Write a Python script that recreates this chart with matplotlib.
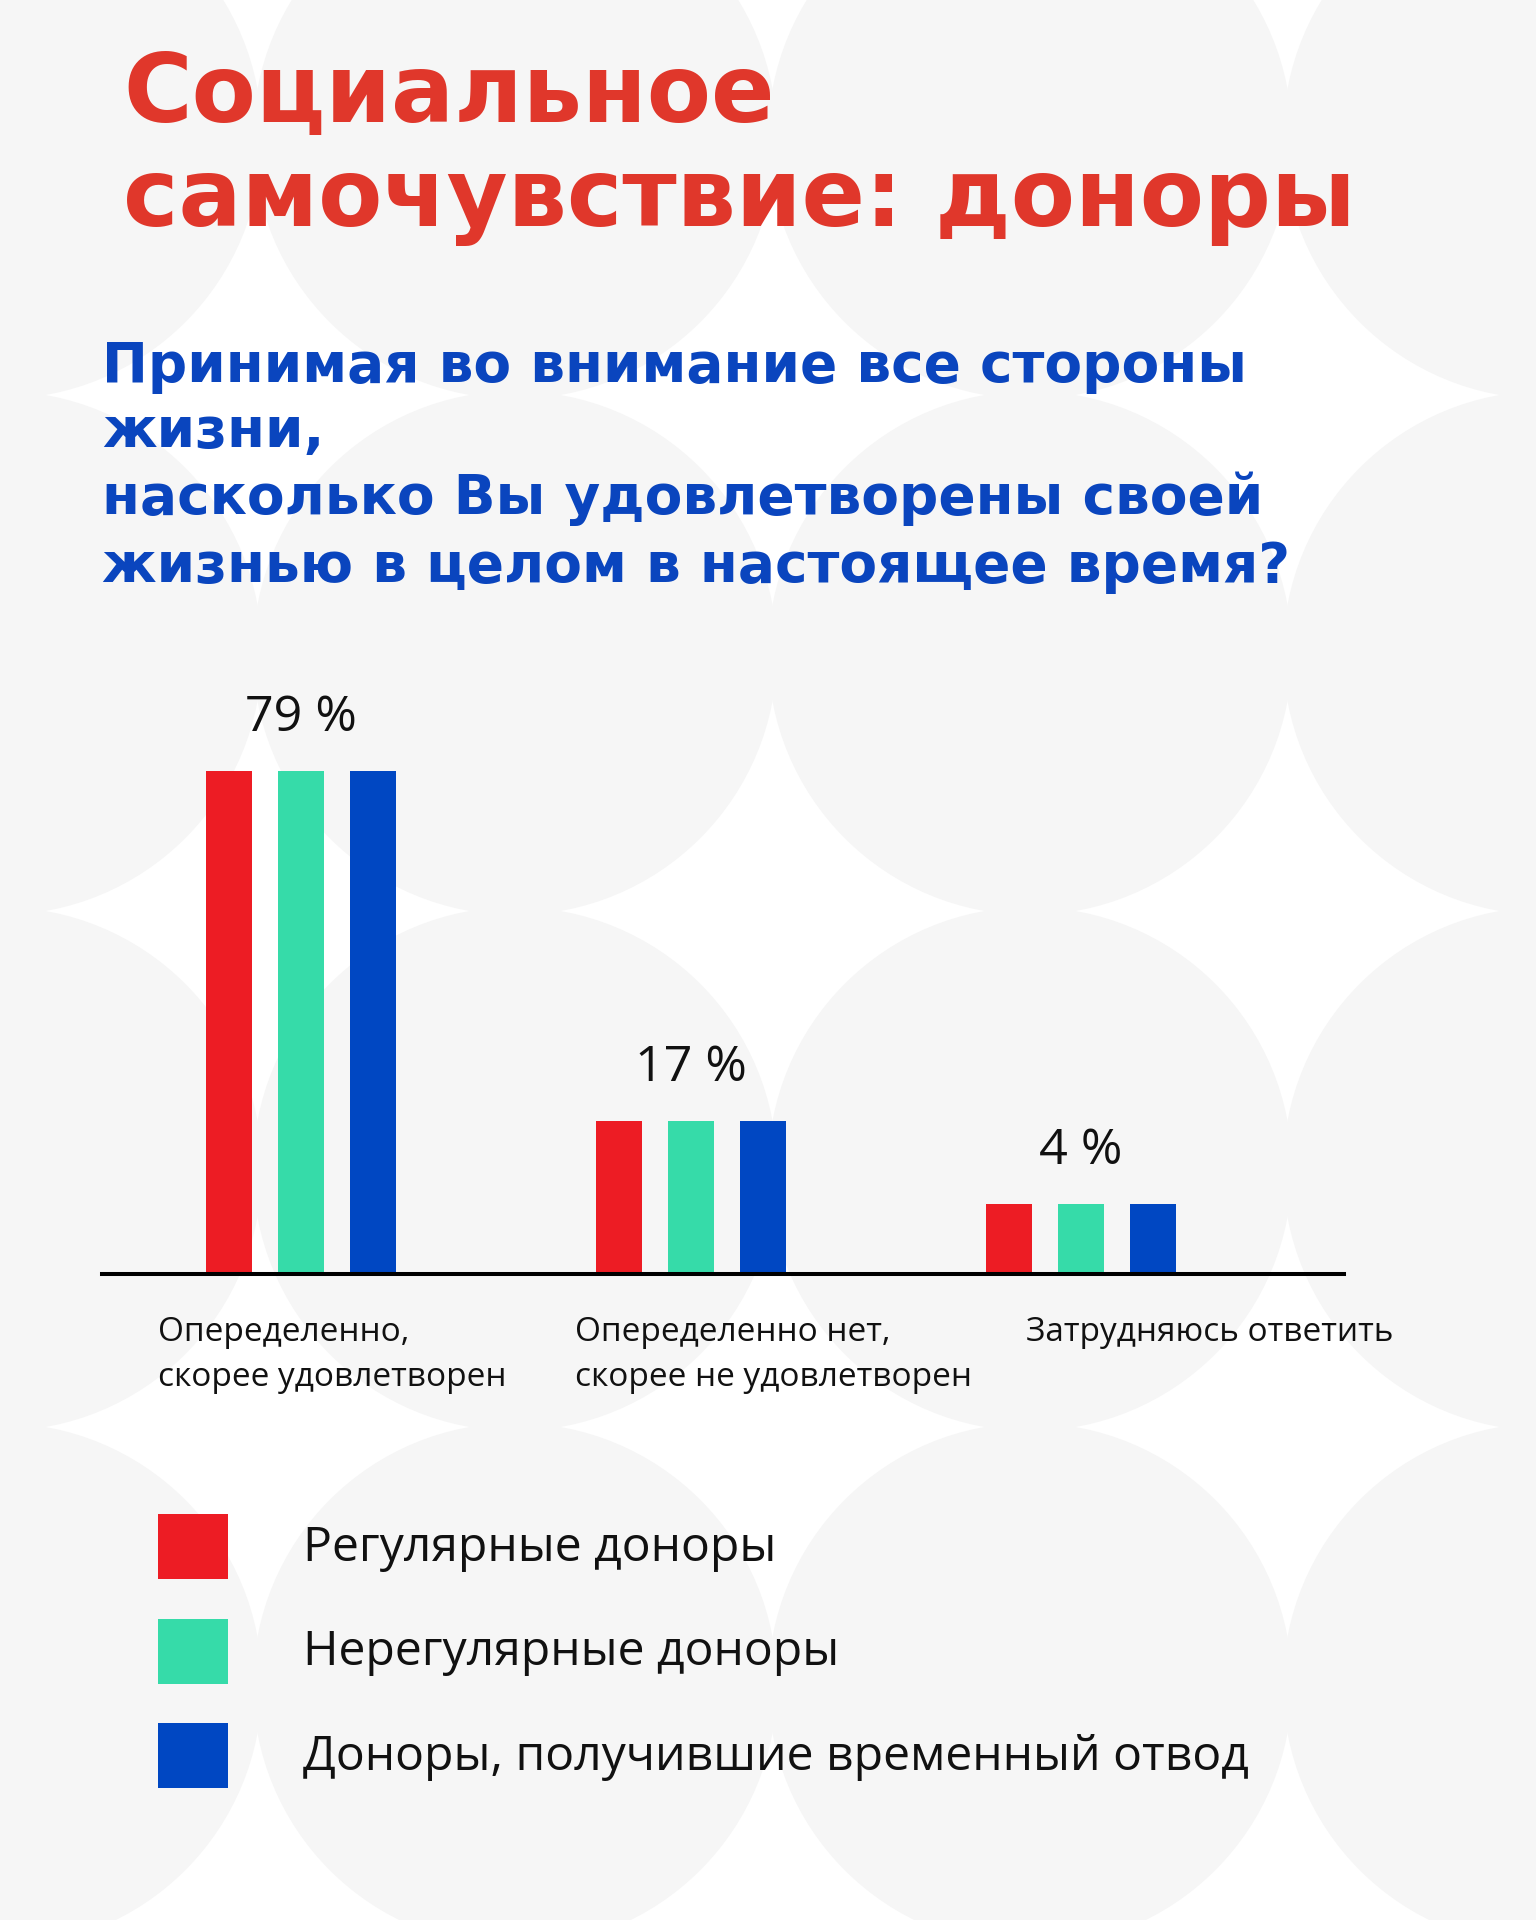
import numpy as np
import matplotlib.pyplot as plt
from matplotlib.patches import Circle, Rectangle

# --- chart data ---
title_lines = ['Социальное', 'самочувствие: доноры']
question_lines = ['Принимая во внимание все стороны',
                  'жизни,',
                  'насколько Вы удовлетворены своей',
                  'жизнью в целом в настоящее время?']
categories = ['Опеределенно,\nскорее удовлетворен',
              'Опеределенно нет,\nскорее не удовлетворен',
              'Затрудняюсь ответить']
shares = [79, 17, 4]          # printed values, %
bar_heights = [79, 24, 11]    # bar heights as drawn in the picture (not to scale)
series = ['Регулярные доноры',
          'Нерегулярные доноры',
          'Доноры, получившие временный отвод']
colors = ['#ED1C24', '#36DBA9', '#0047C2']

W, H = 1536, 1920
fig = plt.figure(figsize=(W / 100, H / 100), dpi=100)
fig.patch.set_facecolor('white')

# background layer in pixel coords
bg = fig.add_axes([0, 0, 1, 1], zorder=0)
bg.set_xlim(0, W)
bg.set_ylim(H, 0)
bg.axis('off')
step_x, step_y, r = 515, 516, 262
for cx in np.arange(-1, 5) * step_x:
    for cy in 137 + np.arange(-1, 4) * step_y:
        bg.add_patch(Circle((cx, cy), r, color='#F6F6F6', lw=0))


def fit_width(texts, target):
    # scale a group of texts so that the first one is target px wide
    fig.canvas.draw()
    w = texts[0].get_window_extent().width
    size = texts[0].get_fontsize() * target / w
    for t in texts:
        t.set_fontsize(size)


# title
t_title = [bg.text(123, y, s, fontsize=60, fontweight='heavy', color='#E0372B',
                   family='DejaVu Sans', va='baseline')
           for y, s in zip([122, 226], title_lines)]
fit_width(t_title[::-1], 1235)

# question
t_q = [bg.text(102, y, s, fontsize=30, fontweight='bold', color='#0A45BE',
               family='DejaVu Sans', va='baseline')
       for y, s in zip([382, 447, 514, 582], question_lines)]
fit_width(t_q, 1141)

# bars
ax = fig.add_axes([0, 0, 1, 1], zorder=1)
left_px, right_px, base_px = 102, 1344, 1274
ax.set_position([left_px / W, (H - base_px) / H, (right_px - left_px) / W, 636.7 / H])
ax.patch.set_alpha(0)
x = np.arange(len(categories))
ax.set_xlim(-0.510, 2.674)
ax.set_ylim(0, 100)
for s, c in enumerate(colors):
    ax.bar(x + (s - 1) * 0.185, bar_heights, width=0.118, color=c, zorder=1)
for sp in ['top', 'left', 'right']:
    ax.spines[sp].set_visible(False)
ax.spines['bottom'].set_linewidth(2.9)
ax.spines['bottom'].set_color('black')
ax.set_xticks([])
ax.set_yticks([])

t_val = []
for i, (v, h) in enumerate(zip(shares, bar_heights)):
    t_val.append(ax.annotate(f'{v} %', xy=(i, h), xytext=(0, 40), textcoords='offset pixels',
                             ha='center', va='baseline', fontsize=36, family='Open Sans',
                             color='#111111'))
fit_width(t_val, 112)

label_dx = [-143, -116, -55]
t_cat = []
for i, lab in enumerate(categories):
    for j, line in enumerate(lab.split('\n')):
        t_cat.append(ax.annotate(line, xy=(i, 0), xytext=(label_dx[i], -67 - 45 * j),
                                 textcoords='offset pixels', ha='left', va='baseline',
                                 fontsize=24, family='Open Sans', color='#111111',
                                 annotation_clip=False))
fit_width([t_cat[3]] + t_cat, 398)

# legend
t_leg = []
for k, (name, c) in enumerate(zip(series, colors)):
    y0 = 1514 + 104.5 * k
    bg.add_patch(Rectangle((158, y0), 70, 65, color=c, lw=0))
    t_leg.append(bg.text(303, y0 + 47, name, fontsize=33, family='Open Sans',
                         color='#111111', va='baseline'))
fit_width([t_leg[2]] + t_leg, 947)

fig.savefig('out.png', dpi=100)
